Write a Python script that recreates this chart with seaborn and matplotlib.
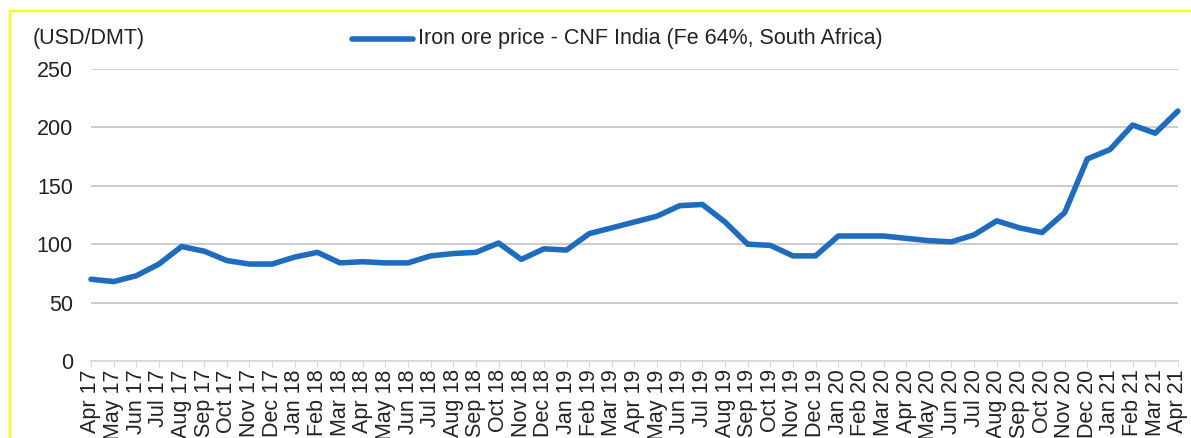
import pandas as pd
import matplotlib.pyplot as plt
import seaborn as sns
from matplotlib.lines import Line2D

# 月份標籤
months = ['Apr 17', 'May 17', 'Jun 17', 'Jul 17', 'Aug 17', 'Sep 17', 'Oct 17', 'Nov 17', 'Dec 17',
          'Jan 18', 'Feb 18', 'Mar 18', 'Apr 18', 'May 18', 'Jun 18', 'Jul 18', 'Aug 18', 'Sep 18',
          'Oct 18', 'Nov 18', 'Dec 18', 'Jan 19', 'Feb 19', 'Mar 19', 'Apr 19', 'May 19', 'Jun 19',
          'Jul 19', 'Aug 19', 'Sep 19', 'Oct 19', 'Nov 19', 'Dec 19', 'Jan 20', 'Feb 20', 'Mar 20',
          'Apr 20', 'May 20', 'Jun 20', 'Jul 20', 'Aug 20', 'Sep 20', 'Oct 20', 'Nov 20', 'Dec 20',
          'Jan 21', 'Feb 21', 'Mar 21', 'Apr 21']

# 鐵礦石價格 (USD/DMT)
price = [70, 68, 73, 83, 98, 94, 86, 83, 83,
         89, 93, 84, 85, 84, 84, 90, 92, 93,
         101, 87, 96, 95, 109, 114, 119, 124, 133,
         134, 119, 100, 99, 90, 90, 107, 107, 107,
         105, 103, 102, 108, 120, 114, 110, 127, 173,
         181, 202, 195, 214]

series_name = 'Iron ore price - CNF India (Fe 64%, South Africa)'

data = pd.DataFrame({'idx': range(len(months)), 'month': months, 'price': price})

sns.set_style('white')
plt.rcParams['font.family'] = ['Liberation Sans', 'DejaVu Sans']

fig = plt.figure(figsize=(11.91, 4.38), dpi=100)
ax = fig.add_axes([0.0764, 0.1758, 0.9126, 0.6667])

sns.lineplot(data=data, x='idx', y='price', ax=ax, color='#1f6cbf', linewidth=4,
             clip_on=False, solid_joinstyle='round')

ax.set_ylim(0, 250)
ax.set_xlim(0, len(months) - 1)
ax.set_yticks(range(0, 251, 50))
ax.set_xticks(range(len(months)))
ax.set_xticklabels(months, rotation=90, fontsize=15.5, color='#222222')
ax.tick_params(axis='y', labelsize=15.5, colors='#222222', length=0, pad=13)
ax.tick_params(axis='x', length=4, color='#d9d9d9', pad=2, bottom=True)
ax.set_xlabel('')
ax.set_ylabel('')

ax.grid(axis='y', color='#c8c8c8', linewidth=1.3)
ax.set_axisbelow(True)
for s in ['top', 'right', 'left']:
    ax.spines[s].set_visible(False)
ax.spines['bottom'].set_color('#d9d9d9')
ax.spines['bottom'].set_linewidth(1.3)

# 單位與圖例
fig.text(0.027, 0.912, '(USD/DMT)', fontsize=15.5, color='#222222', va='center')
fig.add_artist(Line2D([352 / 1191, 413 / 1191], [0.912, 0.912], color='#1f6cbf', linewidth=4))
fig.text(418 / 1191, 0.912, series_name, fontsize=15.5, color='#222222', va='center')

# 黃色邊框
fig.add_artist(Line2D([10 / 1191, 1.0], [1 - 11 / 438, 1 - 11 / 438], color='#ffff00', linewidth=1.6))
fig.add_artist(Line2D([10 / 1191, 10 / 1191], [1 - 11 / 438, 0], color='#ffff00', linewidth=1.6))

plt.savefig('out.png', dpi=100)
